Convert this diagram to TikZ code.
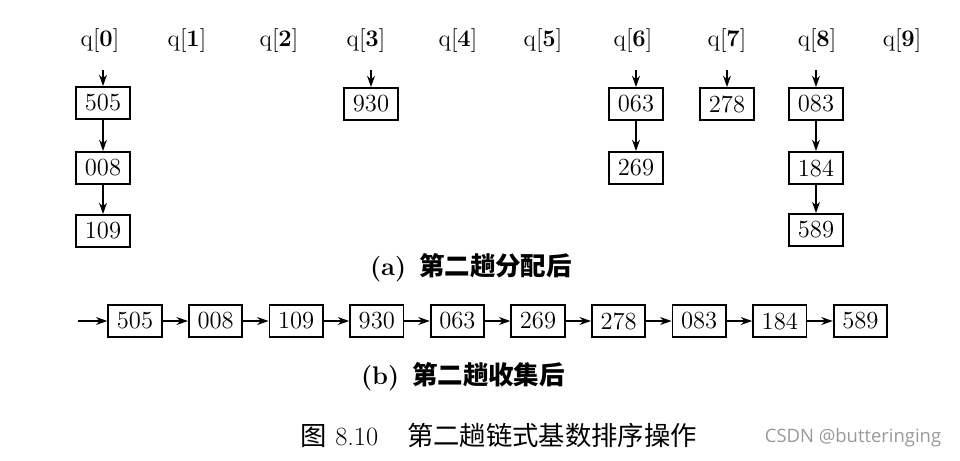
\documentclass[tikz,border=0pt]{standalone}
\usepackage{fontspec}
\newfontfamily\cjk{Noto Sans CJK SC}
\newfontfamily\wmfont{Open Sans}
\usetikzlibrary{arrows.meta}

\begin{document}
\begin{tikzpicture}[x=0.02cm, y=-0.02cm,
    cell/.style={draw, line width=1pt, minimum width=1.07cm, minimum height=0.64cm,
      inner sep=0pt, font=\fontsize{14}{16}\selectfont},
    head/.style={font=\fontsize{13.5}{16}\selectfont},
    link/.style={-{Stealth[length=6.5pt,width=4.5pt]}, line width=0.85pt},
    captext/.style={font=\fontsize{14.5}{17}\selectfont}]

    \useasboundingbox (0,0) rectangle (960,460);

    % bucket heads
    \foreach \i/\x in {0/100,1/187,2/279,3/366,4/458,5/543,6/633,7/727,8/817,9/902}
      \node [head] (q\i) at (\x,41) {q[\textbf{\i}]};

    % (a) after distributing
    \node [cell] (a0) at (103,103) {505};
    \node [cell] (a1) at (103,168) {008};
    \node [cell] (a2) at (103,231) {109};
    \node [cell] (c0) at (371,104) {930};
    \node [cell] (g0) at (636,104) {063};
    \node [cell] (g1) at (636,168) {269};
    \node [cell] (h0) at (727,104) {278};
    \node [cell] (i0) at (816,104) {083};
    \node [cell] (i1) at (816,168) {184};
    \node [cell] (i2) at (816,230) {589};

    \foreach \q/\b in {q0/a0,q3/c0,q6/g0,q7/h0,q8/i0}
      \draw [link, shorten <=6pt] (\b|-\q.south) -- (\b);
    \foreach \a/\b in {a0/a1,a1/a2,g0/g1,i0/i1,i1/i2}
      \draw [link] (\a) -- (\b);

    \node [captext] (capa) at (471,268) {\textbf{(a)}\enspace{\cjk\bfseries 第二趟分配后}};

    % (b) after collecting
    \foreach \v [count=\k from 0] in {505,008,109,930,063,269,278,083,184,589}
      \node [cell] (b\k) at ({135+80.6*\k},321) {\v};
    \coordinate (in) at (78,321);
    \draw [link] (in) -- (b0);
    \foreach \k [count=\n from 1] in {0,...,8}
      \draw [link] (b\k) -- (b\n);

    \node [captext] (capb) at (463,377) {\textbf{(b)}\enspace{\cjk\bfseries 第二趟收集后}};

    \node [captext, font=\fontsize{15}{18}\selectfont] (title) at (499,435) {{\cjk 图}~8.10\hspace{1.1em}{\cjk 第二趟链式基数排序操作}};
    \node [font=\wmfont\fontsize{10.5}{12}\selectfont, text=black!40] (wm) at (853,438) {CSDN @butteringing};

\end{tikzpicture}
\end{document}
